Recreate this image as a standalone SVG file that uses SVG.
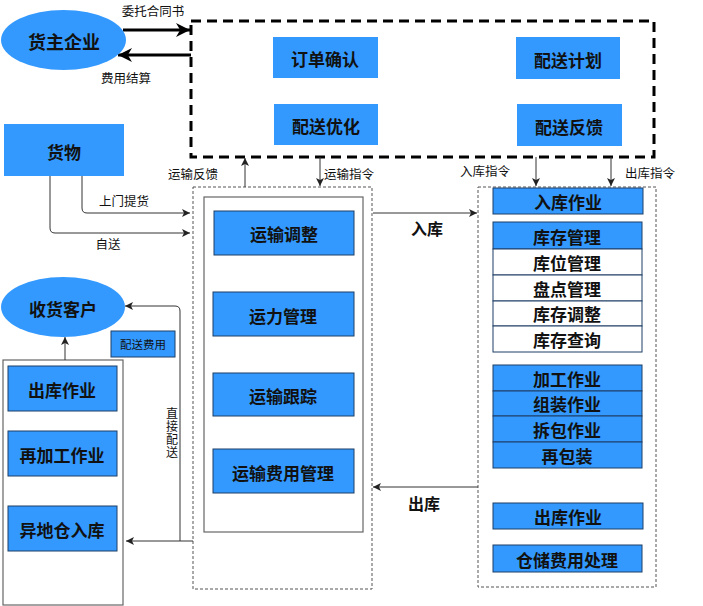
<svg xmlns="http://www.w3.org/2000/svg" width="703" height="606" viewBox="0 0 703 606">
<style>
text{font-family:"Noto Sans CJK SC","Liberation Sans",sans-serif;fill:#111;text-anchor:middle;dominant-baseline:central}
.n{fill:#3399ff}
.nb{fill:#3399ff;stroke:#1e3f66;stroke-width:1}
.w{fill:#fff;stroke:#1e3f66;stroke-width:1}
.t{font-size:17px;font-weight:bold}
.r{font-size:17px;font-weight:bold}
.l{font-size:12.5px}
.c{fill:none;stroke:#333;stroke-width:1}
.ct{fill:none;stroke:#000;stroke-width:3}
</style>
<defs>
<marker id="a" viewBox="0 0 10 10" refX="10" refY="5" markerWidth="8" markerHeight="8" markerUnits="userSpaceOnUse" orient="auto"><path d="M0,0L10,5L0,10L2.5,5z" fill="#222"/></marker>
<marker id="ab" viewBox="0 0 10 10" refX="10" refY="5" markerWidth="14" markerHeight="14" markerUnits="userSpaceOnUse" orient="auto"><path d="M0,0L10,5L0,10L3,5z" fill="#000"/></marker>
</defs>

<!-- containers -->
<rect x="191" y="21" width="463" height="136" fill="none" stroke="#000" stroke-width="3" stroke-dasharray="10,6"/>
<rect x="193" y="187" width="179" height="402" fill="none" stroke="#555" stroke-width="1" stroke-dasharray="3,2"/>
<rect x="204" y="197" width="159" height="335" fill="none" stroke="#666" stroke-width="1.2"/>
<rect x="478" y="187" width="178" height="400" fill="none" stroke="#555" stroke-width="1" stroke-dasharray="3,2"/>
<rect x="3" y="360" width="120" height="245" fill="none" stroke="#666" stroke-width="1.2"/>

<g id="connectors">
<path class="ct" d="M123,30H190" marker-end="url(#ab)"/>
<path class="ct" d="M191,55H118" marker-end="url(#ab)"/>
<path class="c" d="M245,187V158" marker-end="url(#a)"/>
<path class="c" d="M320,157V186" marker-end="url(#a)"/>
<path class="c" d="M536,157V186" marker-end="url(#a)"/>
<path class="c" d="M611,157V186" marker-end="url(#a)"/>
<path class="c" d="M82,176V208Q82,213 87,213H190" marker-end="url(#a)"/>
<path class="c" d="M50,176V228Q50,233 55,233H190" marker-end="url(#a)"/>
<path class="c" d="M373,213H477" marker-end="url(#a)"/>
<path class="c" d="M478,487H373" marker-end="url(#a)"/>
<path class="c" d="M193,541H126" marker-end="url(#a)"/>
<path class="c" d="M180,541V311Q180,306 175,306H125" marker-end="url(#a)"/>
<path class="c" d="M65,360V337" marker-end="url(#a)"/>
</g>

<!-- connector labels -->
<text class="l" x="153" y="10">委托合同书</text>
<text class="l" x="126" y="77">费用结算</text>
<text class="l" x="193" y="173">运输反馈</text>
<text class="l" x="349" y="173">运输指令</text>
<text class="l" x="485" y="170">入库指令</text>
<text class="l" x="650" y="172">出库指令</text>
<text class="l" x="124" y="200">上门提货</text>
<text class="l" x="108" y="243">自送</text>
<text x="427" y="228" style="font-size:16px;font-weight:bold">入库</text>
<text x="424" y="503" style="font-size:16px;font-weight:bold">出库</text>
<text class="l" x="172" y="433" writing-mode="vertical-rl" style="font-size:12px;letter-spacing:1px">直接配送</text>

<g id="huozhu"><ellipse class="n" cx="63.5" cy="40" rx="62.5" ry="30"/><text class="t" x="64" y="41" style="font-size:18px">货主企业</text></g>
<g id="dingdan"><rect class="n" x="273" y="37" width="105" height="41"/><text class="t" x="325" y="58">订单确认</text></g>
<g id="jihua"><rect class="n" x="516" y="37" width="104" height="42"/><text class="t" x="568" y="59">配送计划</text></g>
<g id="youhua"><rect class="n" x="274" y="104" width="104" height="41"/><text class="t" x="326" y="125">配送优化</text></g>
<g id="fankui"><rect class="n" x="517" y="104" width="105" height="42"/><text class="t" x="569" y="126">配送反馈</text></g>
<g id="huowu"><rect class="n" x="4" y="124" width="120" height="52"/><text class="t" x="64" y="151">货物</text></g>

<g id="ys1"><rect class="nb" x="214" y="211" width="140" height="44"/><text class="t" x="284" y="233">运输调整</text></g>
<g id="ys2"><rect class="nb" x="213" y="292" width="141" height="44"/><text class="t" x="283" y="315">运力管理</text></g>
<g id="ys3"><rect class="nb" x="213" y="373" width="141" height="43"/><text class="t" x="283" y="395">运输跟踪</text></g>
<g id="ys4"><rect class="nb" x="213" y="449" width="141" height="44"/><text class="t" x="283" y="472">运输费用管理</text></g>

<g id="rkzy"><rect class="nb" x="493" y="188" width="150" height="26"/><text class="r" x="568" y="201">入库作业</text></g>
<g id="kcgl">
<rect class="nb" x="493" y="222" width="149" height="27"/><text class="r" x="567" y="236">库存管理</text>
<rect class="w" x="493" y="249" width="149" height="26"/><text class="r" x="567" y="262">库位管理</text>
<rect class="w" x="493" y="275" width="149" height="26"/><text class="r" x="567" y="288">盘点管理</text>
<rect class="w" x="493" y="301" width="149" height="25"/><text class="r" x="567" y="313">库存调整</text>
<rect class="w" x="493" y="326" width="149" height="26"/><text class="r" x="567" y="339">库存查询</text>
</g>
<g id="jgzy">
<rect class="nb" x="493" y="365" width="149" height="26"/><text class="r" x="567" y="378">加工作业</text>
<rect class="nb" x="493" y="391" width="149" height="25"/><text class="r" x="567" y="403">组装作业</text>
<rect class="nb" x="493" y="416" width="149" height="26"/><text class="r" x="567" y="429">拆包作业</text>
<rect class="nb" x="493" y="442" width="149" height="26"/><text class="r" x="567" y="455">再包装</text>
</g>
<g id="ckzy"><rect class="nb" x="493" y="503" width="150" height="26"/><text class="r" x="568" y="516">出库作业</text></g>
<g id="ccfy"><rect class="nb" x="493" y="545" width="149" height="27"/><text class="r" x="567" y="559">仓储费用处理</text></g>

<g id="shouhuo"><ellipse class="n" cx="63" cy="307" rx="62" ry="30"/><text class="t" x="63" y="308">收货客户</text></g>
<g id="psfy"><rect class="nb" x="111" y="331" width="64" height="26"/><text x="143" y="344" style="font-size:11.5px">配送费用</text></g>
<g id="lck"><rect class="nb" x="8" y="366" width="109" height="45"/><text class="t" x="62" y="389">出库作业</text></g>
<g id="zjg"><rect class="nb" x="8" y="431" width="109" height="45"/><text class="t" x="62" y="454">再加工作业</text></g>
<g id="ydc"><rect class="nb" x="8" y="506" width="109" height="45"/><text class="t" x="62" y="529">异地仓入库</text></g>
</svg>
